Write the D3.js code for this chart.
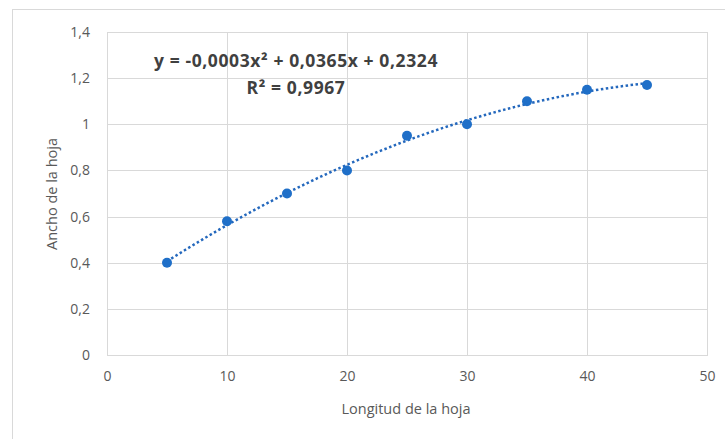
<!DOCTYPE html>
<html lang="es">
    <head>
        <meta charset="utf-8">
        <title>Ancho vs Longitud de la hoja</title>
        <script type="text/javascript" src="https://d3js.org/d3.v7.min.js"></script>
        <style type="text/css">
            body { margin: 0; background: #fff; }
            text { font-family: "Open Sans", "Noto Sans", sans-serif; }
        </style>
    </head>
    <body>
        <script type="text/javascript">

        //Data
        const longitud = [5, 10, 15, 20, 25, 30, 35, 40, 45];
        const ancho = [0.40, 0.58, 0.70, 0.80, 0.95, 1.00, 1.10, 1.15, 1.17];
        const xTicks = [0, 10, 20, 30, 40, 50];
        const yTicks = [0, 0.2, 0.4, 0.6, 0.8, 1, 1.2, 1.4];
        const equation = "y = -0,0003x² + 0,0365x + 0,2324";
        const r2Label = "R² = 0,9967";

        //Sizes
        const width = 725;
        const height = 439;
        const plot = {left: 107, right: 707, top: 32, bottom: 355};
        const blue = "#2468bd";
        const comma = d3.format(",.1f");

        const svg = d3.select("body")
                    .append("svg")
                    .attr("width", width)
                    .attr("height", height);

        //Chart frame
        svg.append("rect")
            .attr("x", 12.5).attr("y", 9.5)
            .attr("width", 730).attr("height", 450)
            .attr("fill", "#fff")
            .attr("stroke", "#d9d9d9");

        //Scales
        const xScale = d3.scaleLinear()
                        .domain([0, 50])
                        .range([plot.left, plot.right]);
        const yScale = d3.scaleLinear()
                        .domain([0, 1.4])
                        .range([plot.bottom, plot.top]);

        //Gridlines
        svg.append("g")
            .selectAll("line")
            .data(yTicks)
            .enter()
            .append("line")
            .attr("x1", plot.left).attr("x2", plot.right)
            .attr("y1", d => Math.round(yScale(d)) + 0.5)
            .attr("y2", d => Math.round(yScale(d)) + 0.5)
            .attr("stroke", "#d9d9d9");
        svg.append("g")
            .selectAll("line")
            .data(xTicks)
            .enter()
            .append("line")
            .attr("y1", plot.top).attr("y2", plot.bottom)
            .attr("x1", d => Math.round(xScale(d)) + 0.5)
            .attr("x2", d => Math.round(xScale(d)) + 0.5)
            .attr("stroke", "#d9d9d9");

        //Axes (labels only, Excel style)
        const leftAxis = d3.axisLeft(yScale)
                           .tickValues(yTicks)
                           .tickSize(0)
                           .tickPadding(17)
                           .tickFormat(d => d === 0 || d === 1 ? d3.format("d")(d) : comma(d).replace(".", ","));
        svg.append("g")
            .attr("transform", "translate(" + plot.left + ",0)")
            .call(leftAxis)
            .call(g => g.select(".domain").remove())
            .selectAll("text")
            .attr("font-size", "14px")
            .attr("fill", "#595959");

        const bottomAxis = d3.axisBottom(xScale)
                             .tickValues(xTicks)
                             .tickSize(0)
                             .tickPadding(16);
        svg.append("g")
            .attr("transform", "translate(0," + plot.bottom + ")")
            .call(bottomAxis)
            .call(g => g.select(".domain").remove())
            .selectAll("text")
            .attr("font-size", "14px")
            .attr("fill", "#595959");

        //Axis titles
        svg.append("text")
            .attr("x", 406).attr("y", 414)
            .attr("text-anchor", "middle")
            .attr("font-size", "14.5px")
            .attr("fill", "#595959")
            .text("Longitud de la hoja");
        svg.append("text")
            .attr("transform", "translate(57,194) rotate(-90)")
            .attr("text-anchor", "middle")
            .attr("font-size", "14.5px")
            .attr("fill", "#595959")
            .text("Ancho de la hoja");

        //Quadratic least squares trendline
        const pts = longitud.map((x, i) => ({x: x, y: ancho[i]}));
        const s = k => d3.sum(pts, p => Math.pow(p.x, k));
        const t = k => d3.sum(pts, p => Math.pow(p.x, k) * p.y);
        const A = [[s(4), s(3), s(2)], [s(3), s(2), s(1)], [s(2), s(1), s(0)]];
        const B = [t(2), t(1), t(0)];
        const det = m => m[0][0]*(m[1][1]*m[2][2]-m[1][2]*m[2][1])
                       - m[0][1]*(m[1][0]*m[2][2]-m[1][2]*m[2][0])
                       + m[0][2]*(m[1][0]*m[2][1]-m[1][1]*m[2][0]);
        const D = det(A);
        const coef = [0, 1, 2].map(c => det(A.map((row, r) => row.map((v, j) => j === c ? B[r] : v))) / D);
        const fit = x => coef[0]*x*x + coef[1]*x + coef[2];
        const trend = d3.range(5, 45.01, 0.5).map(x => ({x: x, y: fit(x)}));

        svg.append("path")
            .datum(trend)
            .attr("d", d3.line().x(d => xScale(d.x)).y(d => yScale(d.y)))
            .attr("fill", "none")
            .attr("stroke", blue)
            .attr("stroke-width", 2.5)
            .attr("stroke-dasharray", "2.5,2.5");

        //Points
        svg.selectAll("circle")
            .data(pts)
            .enter()
            .append("circle")
            .attr("cx", d => xScale(d.x))
            .attr("cy", d => yScale(d.y))
            .attr("r", 5)
            .attr("fill", "#1f6fc8");

        //Plot border
        svg.append("rect")
            .attr("x", plot.left + 0.5).attr("y", plot.top + 0.5)
            .attr("width", plot.right - plot.left).attr("height", plot.bottom - plot.top)
            .attr("fill", "none")
            .attr("stroke", "#d9d9d9");

        //Trendline label
        svg.selectAll("text.eq")
            .data([equation, r2Label])
            .enter()
            .append("text")
            .attr("class", "eq")
            .attr("x", 296)
            .attr("y", (d, i) => 67 + i * 27)
            .attr("text-anchor", "middle")
            .attr("font-size", "17.5px")
            .attr("font-weight", "bold")
            .attr("letter-spacing", "0.6px")
            .attr("fill", "#404040")
            .text(d => d);

        </script>
    </body>
</html>
